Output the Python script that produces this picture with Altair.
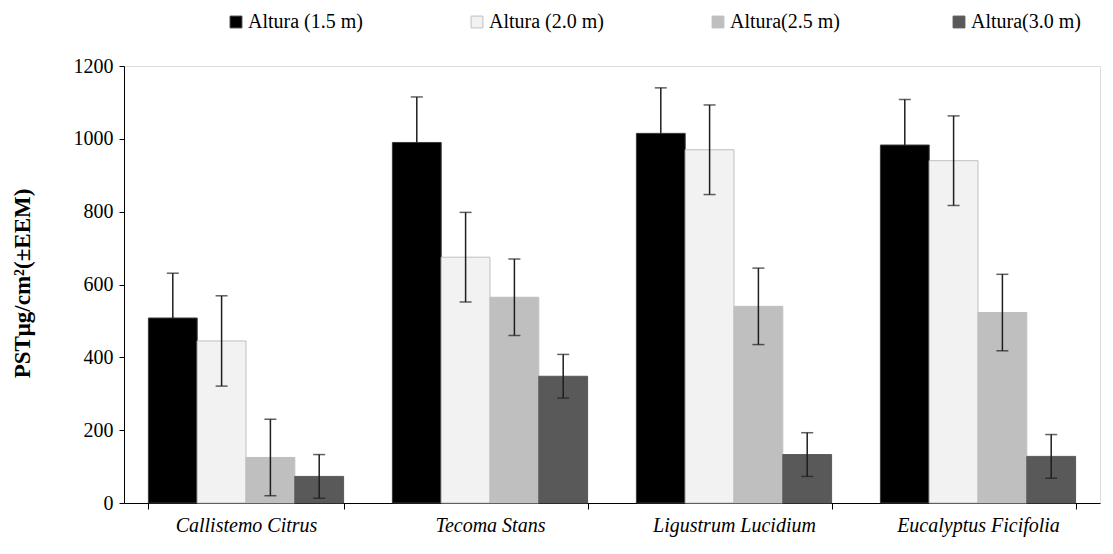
import altair as alt
import pandas as pd

especies = ["Callistemo Citrus", "Tecoma Stans", "Ligustrum Lucidium", "Eucalyptus Ficifolia"]
series = ["Altura (1.5 m)", "Altura (2.0 m)", "Altura(2.5 m)", "Altura(3.0 m)"]
valores = {
    "Altura (1.5 m)": [508, 990, 1015, 983],
    "Altura (2.0 m)": [445, 675, 970, 940],
    "Altura(2.5 m)": [125, 565, 540, 523],
    "Altura(3.0 m)": [73, 348, 133, 128],
}
errores = {
    "Altura (1.5 m)": [123, 125, 125, 125],
    "Altura (2.0 m)": [124, 123, 123, 123],
    "Altura(2.5 m)": [105, 105, 105, 105],
    "Altura(3.0 m)": [60, 60, 60, 60],
}
fill_colors = ["#000000", "#f2f2f2", "#bfbfbf", "#595959"]
stroke_colors = ["#3a3a3a", "#bfbfbf", "#bfbfbf", "#595959"]

rows = []
for s in series:
    for i, e in enumerate(especies):
        v = valores[s][i]
        er = errores[s][i]
        rows.append({"especie": e, "serie": s, "valor": v, "lo": v - er, "hi": v + er,
                     # the lower half of the black bars' error bar is hidden inside the bar
                     "lo_vis": v if s == series[0] else v - er})
df = pd.DataFrame(rows)
df_lo = df[df["serie"] != series[0]]

FONT = "'Liberation Serif', 'Times New Roman', serif"

legend = alt.Legend(
    title=None, orient="none", legendX=102, legendY=-54, direction="horizontal",
    columns=4, gridAlign="all", columnPadding=104, symbolType="square", symbolSize=140,
    symbolStrokeWidth=1, labelFont=FONT, labelFontSize=20, labelColor="#000000",
    labelOffset=2,
)

x = alt.X("especie:N", sort=especies, title=None,
          scale=alt.Scale(paddingInner=0.2, paddingOuter=0.1),
          axis=alt.Axis(labelAngle=0, labelFont=FONT, labelFontSize=20, labelFontStyle="italic",
                        labelColor="#000000", labelPadding=6, tickBand="extent", tickSize=6,
                        domainColor="#000000", tickColor="#000000", labelLimit=300))
xo = alt.XOffset("serie:N", sort=series)
y = alt.Y("valor:Q", title="PSTμg/cm²(±EEM)",
          scale=alt.Scale(domain=[0, 1200], nice=False),
          axis=alt.Axis(values=[0, 200, 400, 600, 800, 1000, 1200], grid=False, format="d",
                        labelFont=FONT, labelFontSize=20, labelColor="#000000", labelPadding=6,
                        tickSize=5, domainColor="#000000", tickColor="#000000",
                        titleFont=FONT, titleFontSize=23, titleFontWeight="bold", titleColor="#000000",
                        titleX=-102, titleY=217, titleAngle=-90, titleBaseline="middle", titleAlign="center"))

bars = alt.Chart(df).mark_bar(strokeWidth=1).encode(
    x=x, xOffset=xo, y=y,
    fill=alt.Fill("serie:N", sort=series, scale=alt.Scale(domain=series, range=fill_colors), legend=legend),
    stroke=alt.Stroke("serie:N", sort=series, scale=alt.Scale(domain=series, range=stroke_colors), legend=legend),
)

ERR = "#1e1e1e"
rules = alt.Chart(df).mark_rule(color=ERR, strokeWidth=1.5).encode(
    x=alt.X("especie:N", sort=especies), xOffset=xo,
    y=alt.Y("lo_vis:Q"), y2="hi:Q",
)
cap_lo = alt.Chart(df_lo).mark_tick(color=ERR, thickness=1.5, size=12).encode(
    x=alt.X("especie:N", sort=especies), xOffset=xo, y=alt.Y("lo:Q"),
)
cap_hi = alt.Chart(df).mark_tick(color=ERR, thickness=1.5, size=12).encode(
    x=alt.X("especie:N", sort=especies), xOffset=xo, y=alt.Y("hi:Q"),
)

chart = alt.layer(bars, rules, cap_lo, cap_hi).properties(
    width=976, height=437,
    autosize=alt.AutoSizeParams(type="none"),
    padding={"left": 116, "top": 58, "right": 5, "bottom": 43},
).configure_view(stroke=None).configure(background="#ffffff", font=FONT)

chart.save("out.html", embed_options={"renderer": "svg", "actions": False})
